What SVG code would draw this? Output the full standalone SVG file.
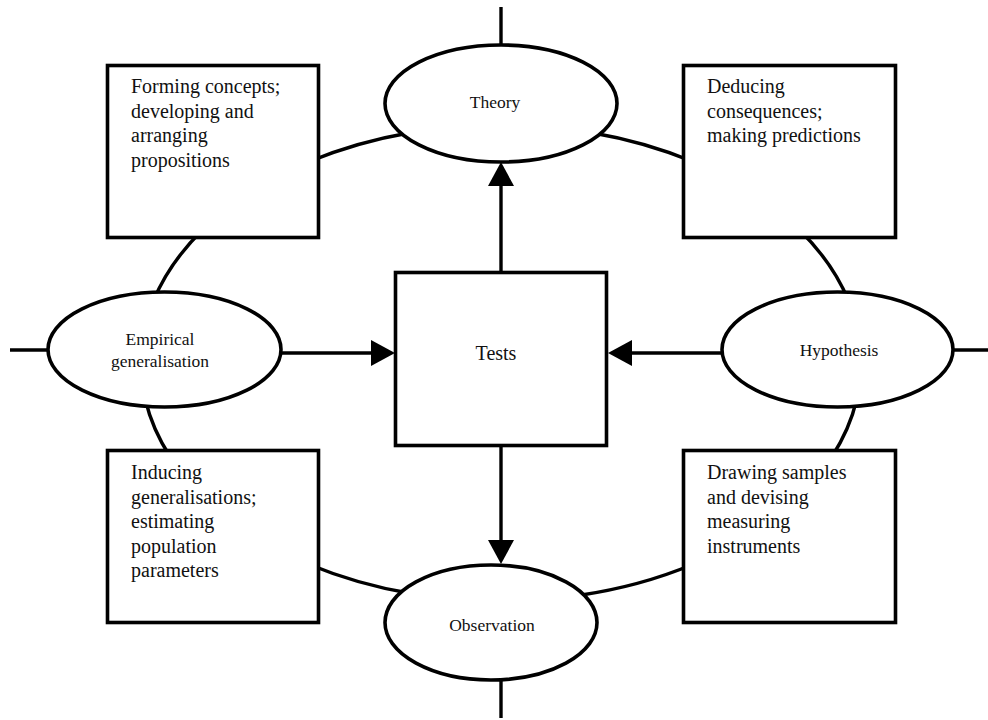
<svg xmlns="http://www.w3.org/2000/svg" width="988" height="720" viewBox="0 0 988 720">
  <style>
    .bg { fill: #ffffff; }
    .shape { fill: #ffffff; stroke: #000000; stroke-width: 3.6; }
    .line { fill: none; stroke: #000000; stroke-width: 3.4; }
    .label { font-family: "Liberation Serif", "Times New Roman", serif; fill: #111111; }
    .oval { font-size: 17.5px; text-anchor: middle; }
    .box { font-size: 20px; }
    .centre { font-size: 20px; text-anchor: middle; }
  </style>
  <defs>
    <marker id="head" markerUnits="userSpaceOnUse" markerWidth="24" markerHeight="26" refX="0" refY="13" orient="auto">
      <path d="M0,0 L24,13 L0,26 Z" fill="#000000"/>
    </marker>
  </defs>

  <rect class="bg" x="0" y="0" width="988" height="720"/>

  <!-- ring of arcs, stubs and arrows -->
  <g id="connectors">
    <!-- outer ring: one ellipse (centre 501,363) drawn as eight arcs between nodes -->
    <path class="line" d="M310,161.3 A360,238 0 0,1 410,132.7"/>
    <path class="line" d="M592,132.7 A360,238 0 0,1 692,161.3"/>
    <path class="line" d="M799.5,230 A360,238 0 0,1 848.2,300"/>
    <path class="line" d="M856.6,400 A360,238 0 0,1 831.7,457"/>
    <path class="line" d="M692,564.7 A360,238 0 0,1 580,595.2"/>
    <path class="line" d="M410,593.3 A360,238 0 0,1 310,564.7"/>
    <path class="line" d="M170.3,457 A360,238 0 0,1 145.4,400"/>
    <path class="line" d="M153.8,300 A360,238 0 0,1 202.5,230"/>

    <!-- stubs leaving the ring -->
    <line class="line" x1="501" y1="7" x2="501" y2="46"/>
    <line class="line" x1="501" y1="679" x2="501" y2="718"/>
    <line class="line" x1="10" y1="350" x2="49" y2="350"/>
    <line class="line" x1="952" y1="350" x2="988" y2="350"/>

    <!-- arrows to and from Tests -->
    <line class="line" x1="501" y1="272" x2="501" y2="186" marker-end="url(#head)"/>
    <line class="line" x1="501" y1="446" x2="501" y2="540" marker-end="url(#head)"/>
    <line class="line" x1="281" y1="353" x2="371" y2="353" marker-end="url(#head)"/>
    <line class="line" x1="722" y1="353" x2="632" y2="353" marker-end="url(#head)"/>
  </g>

  <g id="theory">
    <ellipse class="shape" cx="501" cy="103.5" rx="116" ry="58.5"/>
    <text class="label oval" x="495" y="108">Theory</text>
  </g>

  <g id="observation">
    <ellipse class="shape" cx="491" cy="622.5" rx="106" ry="57.5"/>
    <text class="label oval" x="492" y="631">Observation</text>
  </g>

  <g id="empirical-generalisation">
    <ellipse class="shape" cx="164.5" cy="349.5" rx="116.5" ry="57.5"/>
    <text class="label oval" x="160" y="345">Empirical</text>
    <text class="label oval" x="160" y="367">generalisation</text>
  </g>

  <g id="hypothesis">
    <ellipse class="shape" cx="837.5" cy="349.5" rx="115.5" ry="57.5"/>
    <text class="label oval" x="839" y="356">Hypothesis</text>
  </g>

  <g id="tests">
    <rect class="shape" x="395.5" y="272.5" width="211" height="173"/>
    <text class="label centre" x="496" y="360">Tests</text>
  </g>

  <g id="forming-concepts">
    <rect class="shape" x="107.5" y="65.5" width="211" height="172"/>
    <text class="label box" x="131" y="93">Forming concepts;</text>
    <text class="label box" x="131" y="117.5">developing and</text>
    <text class="label box" x="131" y="142">arranging</text>
    <text class="label box" x="131" y="166.5">propositions</text>
  </g>

  <g id="deducing-consequences">
    <rect class="shape" x="683.5" y="65.5" width="212" height="172"/>
    <text class="label box" x="707" y="93">Deducing</text>
    <text class="label box" x="707" y="117.5">consequences;</text>
    <text class="label box" x="707" y="142">making predictions</text>
  </g>

  <g id="inducing-generalisations">
    <rect class="shape" x="107.5" y="450.5" width="211" height="172"/>
    <text class="label box" x="131" y="479">Inducing</text>
    <text class="label box" x="131" y="503.5">generalisations;</text>
    <text class="label box" x="131" y="528">estimating</text>
    <text class="label box" x="131" y="552.5">population</text>
    <text class="label box" x="131" y="577">parameters</text>
  </g>

  <g id="drawing-samples">
    <rect class="shape" x="683.5" y="450.5" width="212" height="172"/>
    <text class="label box" x="707" y="479">Drawing samples</text>
    <text class="label box" x="707" y="503.5">and devising</text>
    <text class="label box" x="707" y="528">measuring</text>
    <text class="label box" x="707" y="552.5">instruments</text>
  </g>
</svg>
